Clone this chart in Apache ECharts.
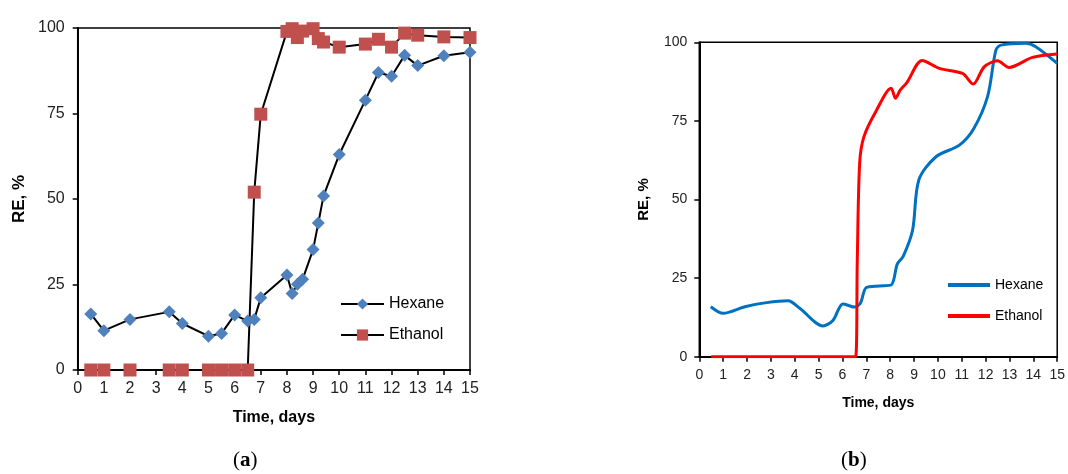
<!DOCTYPE html>
<html>
<head>
<meta charset="utf-8">
<script src="https://cdn.jsdelivr.net/npm/echarts@6/dist/echarts.min.js"></script>
<style>html,body{margin:0;padding:0;background:#fff}#c{width:1068px;height:474px}</style>
</head>
<body>
<div id="c"></div>
<script>
// Panel (a): measured points
const hexaneA = [[0.5,16.4],[1,11.5],[2,14.8],[3.5,17.0],[4,13.6],[5,9.9],[5.5,10.7],[6,16.1],[6.5,14.3],[6.75,14.8],[7,21.1],[8,27.8],[8.2,22.4],[8.4,25.1],[8.6,26.5],[9,35.2],[9.2,43.0],[9.4,50.9],[10,63.0],[11,78.9],[11.5,87.0],[12,85.9],[12.5,92.0],[13,89.0],[14,91.9],[15,92.9]];
const ethanolA = [[0.5,0],[1,0],[2,0],[3.5,0],[4,0],[5,0],[5.5,0],[6,0],[6.5,0],[6.75,52.0],[7,74.8],[8,99.0],[8.2,99.8],[8.4,97.2],[8.6,99.1],[9,99.8],[9.2,96.9],[9.4,95.9],[10,94.4],[11,95.3],[11.5,96.7],[12,94.4],[12.5,98.5],[13,97.9],[14,97.4],[15,97.2]];
// Panel (b): smoothed curves
const hexaneB = [[0.48,15.9],[1.0,13.8],[1.91,15.9],[2.82,17.2],[3.72,17.8],[4.21,15.4],[5.18,9.8],[5.6,11.5],[6.02,16.8],[6.5,15.8],[6.75,17.0],[7.0,22.0],[7.55,22.5],[8.04,22.8],[8.3,29.5],[8.55,32.0],[8.94,40.3],[9.2,56.2],[9.92,63.6],[10.9,67.3],[11.5,72.5],[12.08,82.7],[12.43,97.5],[12.64,99.1],[13.68,99.7],[14.1,98.6],[15.0,93.3]];
const ethanolB = [[0.5,0],[6.0,0],[6.55,0],[6.62,30],[6.72,61.5],[6.9,70.0],[7.4,78.0],[8.04,85.4],[8.22,82.2],[8.42,84.8],[8.7,87.2],[9.34,94.2],[10.06,91.7],[11.03,90.1],[11.48,86.7],[11.94,92.2],[12.5,94.1],[12.98,92.0],[13.96,95.2],[15.0,96.3]];
const seriesNames = ['Hexane','Ethanol'];
const xTitle = 'Time, days';
const yTitle = 'RE, %';
const panelLabels = ['a','b'];

const chart = echarts.init(document.getElementById('c'), null, {renderer:'canvas'});
const FONT = 'Liberation Sans, Arial, sans-serif';
function xAxis(gi, fs, gap, margin){
  return {type:'value', gridIndex:gi, min:0, max:15, interval:1,
    name:xTitle, nameLocation:'middle', nameGap:gap,
    nameTextStyle:{fontFamily:FONT, fontWeight:'bold', fontSize:fs, color:'#000'},
    axisLine:{lineStyle:{color:'#000', width:2}},
    axisTick:{show:true, inside:false, length:5, lineStyle:{color:'#000', width:1.5}},
    axisLabel:{fontFamily:FONT, fontSize:fs, color:'#222', margin:margin},
    splitLine:{show:false}};
}
function yAxis(gi, fs, nfs, gap, margin){
  return {type:'value', gridIndex:gi, min:0, max:100, interval:25,
    name:yTitle, nameLocation:'middle', nameGap:gap, nameRotate:90,
    nameTextStyle:{fontFamily:FONT, fontWeight:'bold', fontSize:nfs, color:'#000'},
    axisLine:{show:true, lineStyle:{color:'#000', width:2}},
    axisTick:{show:true, inside:false, length:5, lineStyle:{color:'#000', width:1.5}},
    axisLabel:{fontFamily:FONT, fontSize:fs, color:'#222', margin:margin},
    splitLine:{show:false}};
}
const strip = n => n.replace(/ \(.\)$/, '');
chart.setOption({
  animation:false,
  backgroundColor:'#fff',
  grid:[
    {left:77.7, right:598, top:28, bottom:104, show:true, borderColor:'#000', borderWidth:1.5},
    {left:699.3, right:9.7, top:42.3, bottom:117.3, show:true, borderColor:'#000', borderWidth:1.5}
  ],
  xAxis:[xAxis(0,16,40,11), xAxis(1,14,39,11)],
  yAxis:[yAxis(0,16,17,50,13), yAxis(1,14,15,48,12)],
  legend:[
    {orient:'vertical', left:335, top:291, itemWidth:43, itemHeight:14, itemGap:15,
     data:[seriesNames[0]+' (a)', seriesNames[1]+' (a)'], formatter:strip,
     textStyle:{fontFamily:FONT, fontSize:16, color:'#000'}},
    {orient:'vertical', left:943, top:273, itemWidth:42, itemHeight:4, itemGap:17,
     data:[{name:seriesNames[0]+' (b)', icon:'rect'}, {name:seriesNames[1]+' (b)', icon:'rect'}], formatter:strip,
     textStyle:{fontFamily:FONT, fontSize:14, color:'#000'}}
  ],
  series:[
    {name:seriesNames[0]+' (a)', type:'line', xAxisIndex:0, yAxisIndex:0, data:hexaneA,
     symbol:'diamond', symbolSize:13, showAllSymbol:true,
     itemStyle:{color:'#4F81BD'}, lineStyle:{color:'#000', width:2}},
    {name:seriesNames[1]+' (a)', type:'line', xAxisIndex:0, yAxisIndex:0, data:ethanolA,
     symbol:'rect', symbolSize:13, showAllSymbol:true,
     itemStyle:{color:'#C0504D'}, lineStyle:{color:'#000', width:2}},
    {name:seriesNames[0]+' (b)', type:'line', xAxisIndex:1, yAxisIndex:1, data:hexaneB,
     symbol:'none', smooth:0.3,
     itemStyle:{color:'#0070C0'}, lineStyle:{color:'#0070C0', width:3}},
    {name:seriesNames[1]+' (b)', type:'line', xAxisIndex:1, yAxisIndex:1, data:ethanolB,
     symbol:'none', smooth:0.3,
     itemStyle:{color:'#FF0000'}, lineStyle:{color:'#FF0000', width:3}}
  ],
  graphic:[
    {type:'text', left:233, top:450, style:{text:'{p|(}{b|'+panelLabels[0]+'}{p|)}', rich:{p:{fontFamily:'Liberation Serif', fontSize:21, fill:'#000'}, b:{fontFamily:'Liberation Serif', fontSize:21, fontWeight:'bold', fill:'#000'}}}},
    {type:'text', left:841, top:450, style:{text:'{p|(}{b|'+panelLabels[1]+'}{p|)}', rich:{p:{fontFamily:'Liberation Serif', fontSize:21, fill:'#000'}, b:{fontFamily:'Liberation Serif', fontSize:21, fontWeight:'bold', fill:'#000'}}}}
  ]
});
</script>
</body>
</html>
